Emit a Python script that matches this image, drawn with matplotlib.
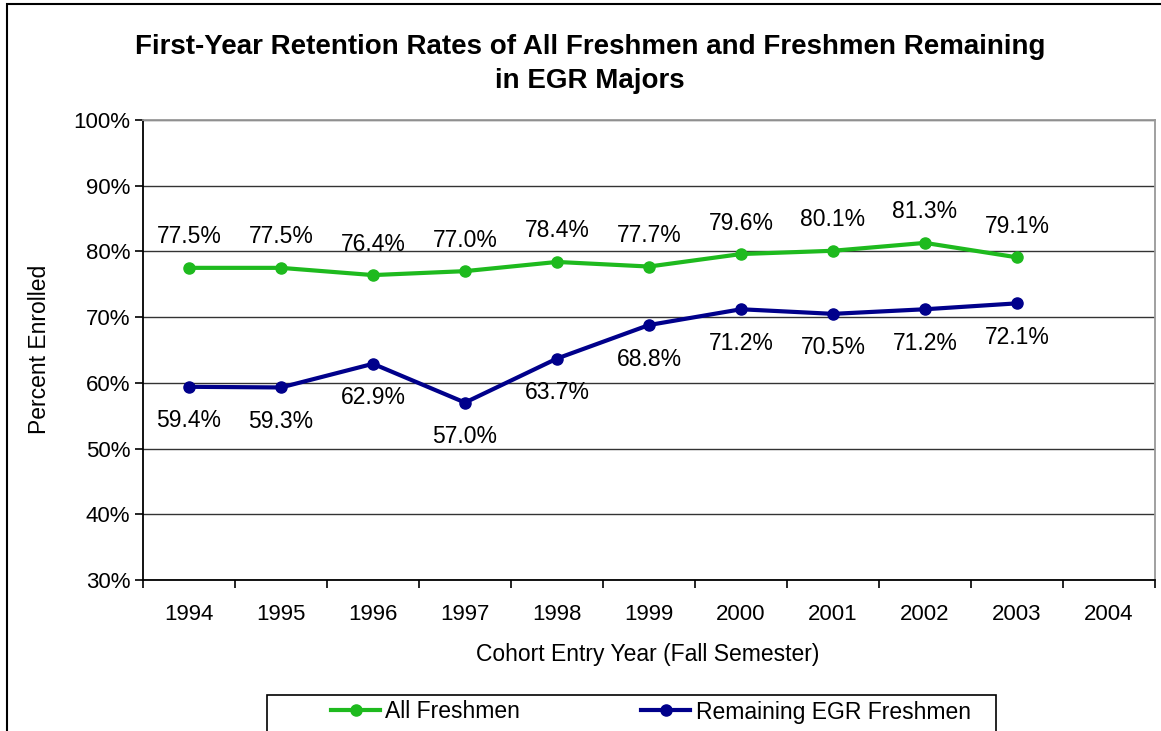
import matplotlib
matplotlib.use("Agg")
import matplotlib.pyplot as plt
from matplotlib.patches import Rectangle
from matplotlib.lines import Line2D

plt.rcParams['font.family'] = ['Liberation Sans', 'DejaVu Sans']

years = ['1994', '1995', '1996', '1997', '1998', '1999', '2000', '2001', '2002', '2003', '2004']
all_freshmen = [77.5, 77.5, 76.4, 77.0, 78.4, 77.7, 79.6, 80.1, 81.3, 79.1]
egr_freshmen = [59.4, 59.3, 62.9, 57.0, 63.7, 68.8, 71.2, 70.5, 71.2, 72.1]
yticks = [30, 40, 50, 60, 70, 80, 90, 100]

W, H = 1161, 731
fig = plt.figure(figsize=(W / 100, H / 100), dpi=100)
fig.patch.set_facecolor('white')

FS = 16.5

# outer chart border
fig.add_artist(Rectangle((7 / W, -0.1), 1.2, 1 - 4 / H + 0.1, transform=fig.transFigure,
                         fill=False, edgecolor='black', linewidth=1.5))

ax = fig.add_axes([143 / W, 1 - 580 / H, (1155 - 143) / W, (580 - 120) / H])
ax.set_xlim(-0.5, len(years) - 0.5)
ax.set_ylim(30, 100)

green = '#1EBA1E'
navy = '#00008B'
x1 = list(range(len(all_freshmen)))
x2 = list(range(len(egr_freshmen)))
ax.plot(x1, all_freshmen, color=green, lw=3, marker='o', ms=8, zorder=3)
ax.plot(x2, egr_freshmen, color=navy, lw=3, marker='o', ms=8, zorder=3)

for x, v in zip(x1, all_freshmen):
    ax.annotate(f'{v:.1f}%', (x, v), xytext=(0, 31), textcoords='offset pixels',
                ha='center', va='center', fontsize=FS)
for x, v in zip(x2, egr_freshmen):
    ax.annotate(f'{v:.1f}%', (x, v), xytext=(0, -34), textcoords='offset pixels',
                ha='center', va='center', fontsize=FS)

ax.set_yticks(yticks)
ax.set_yticklabels([f'{t}%' for t in yticks], fontsize=16)
ax.yaxis.grid(True, color='#333333', lw=1)
ax.set_axisbelow(True)

ax.set_xticks([i - 0.5 for i in range(len(years) + 1)])
ax.set_xticklabels([])
ax.set_xticks(range(len(years)), minor=True)
ax.set_xticklabels(years, minor=True, fontsize=16)
ax.tick_params(axis='x', which='minor', length=0, pad=17)
ax.tick_params(axis='x', which='major', length=6, width=1.2, direction='out')
ax.tick_params(axis='y', length=6, width=1.2, direction='out', pad=3)

for s in ['left', 'bottom']:
    ax.spines[s].set_color('black')
    ax.spines[s].set_linewidth(1.3)
for s in ['top', 'right']:
    ax.spines[s].set_color('#999999')
    ax.spines[s].set_linewidth(1.3)

fig.text(590 / W, 1 - 64 / H,
         'First-Year Retention Rates of All Freshmen and Freshmen Remaining\nin EGR Majors',
         ha='center', va='center', fontsize=20, fontweight='bold', linespacing=1.35)
fig.text(648 / W, 1 - 654 / H, 'Cohort Entry Year (Fall Semester)', ha='center', va='center', fontsize=FS)
fig.text(40 / W, 1 - 349 / H, 'Percent Enrolled', ha='center', va='center', fontsize=FS, rotation=90)

# legend box
fig.add_artist(Rectangle((267 / W, -0.1), (996 - 267) / W, 1 - 695 / H + 0.1,
                         transform=fig.transFigure, fill=False, edgecolor='black', linewidth=1.2))
handles = [Line2D([], [], color=green, lw=3, marker='o', ms=8),
           Line2D([], [], color=navy, lw=3, marker='o', ms=8)]
fig.legend(handles, ['All Freshmen', 'Remaining EGR Freshmen'], ncol=2, frameon=False,
           loc='center left', bbox_to_anchor=(331 / W, 1 - 712 / H), borderpad=0,
           borderaxespad=0, fontsize=FS, handlelength=2.14, handletextpad=0.22,
           columnspacing=5.3)

fig.savefig('out.png', dpi=100)
